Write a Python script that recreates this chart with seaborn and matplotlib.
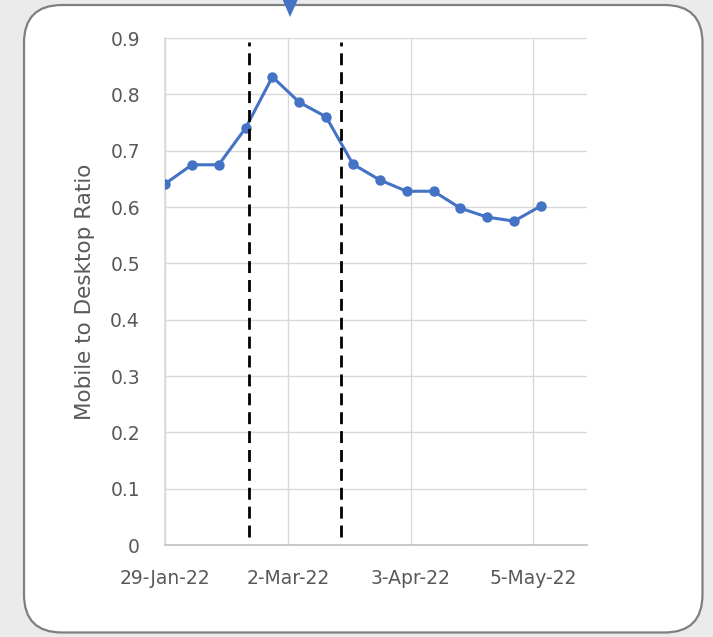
import datetime as dt

import matplotlib.dates as mdates
import matplotlib.pyplot as plt
import numpy as np
import pandas as pd
import seaborn as sns
from matplotlib.patches import FancyBboxPatch, Polygon
from matplotlib.ticker import FuncFormatter

# Weekly mobile-to-desktop ratio
week_start = "2022-01-29"
n_weeks = 15
ratio = [0.641, 0.675, 0.675, 0.740, 0.831, 0.786, 0.760, 0.676,
         0.648, 0.628, 0.628, 0.598, 0.582, 0.575, 0.602]

# Marker dates (dashed lines) and axis ticks
event_dates = ["2022-02-20", "2022-03-16"]
tick_dates = ["2022-01-29", "2022-03-02", "2022-04-03", "2022-05-05"]
x_end = "2022-05-19"

df = pd.DataFrame({
    "week": pd.date_range(week_start, periods=n_weeks, freq="7D"),
    "ratio": ratio,
})

sns.set_theme(style="white")
plt.rcParams["font.family"] = ["DejaVu Sans"]

grey_text = "#595959"
blue = "#4472C4"

fig = plt.figure(figsize=(7.13, 6.37), dpi=100)
fig.patch.set_facecolor("#ebebeb")

# rounded panel behind the chart
panel = FancyBboxPatch((0.24, 0.045), 6.785, 6.275,
                       boxstyle="round,pad=0,rounding_size=0.38",
                       transform=fig.dpi_scale_trans,
                       facecolor="white", edgecolor="#7f7f7f", linewidth=1.6,
                       zorder=-10)
fig.patches.append(panel)

# little blue pointer at the top
tri = Polygon([(2.815, 6.40), (2.99, 6.40), (2.90, 6.20)], closed=True,
              transform=fig.dpi_scale_trans, facecolor=blue, edgecolor="none",
              zorder=10)
fig.patches.append(tri)

ax = fig.add_axes([0.2314, 0.1444, 0.5919, 0.7959])
ax.set_zorder(1)
ax.set_facecolor("none")

sns.lineplot(data=df, x="week", y="ratio", ax=ax, color=blue, linewidth=2.2,
             marker="o", markersize=7.5, markeredgewidth=0, zorder=3)

for d in event_dates:
    ax.axvline(pd.Timestamp(d), ymin=0.016, ymax=0.992, color="black",
               linewidth=2, linestyle=(0, (4.3, 2.5)), zorder=4)

ax.set_xlim(pd.Timestamp(week_start), pd.Timestamp(x_end))
ax.set_ylim(0, 0.9)
ax.set_yticks(np.arange(0, 0.91, 0.1))
ax.yaxis.set_major_formatter(FuncFormatter(lambda v, p: f"{v:g}"))
ax.set_xticks([pd.Timestamp(t) for t in tick_dates])
ax.xaxis.set_major_formatter(FuncFormatter(
    lambda v, p: (lambda d: f"{d.day}-{d:%b-%y}")(mdates.num2date(v))))

ax.grid(True, color="#d9d9d9", linewidth=1)
ax.set_axisbelow(True)
for s in ["top", "right"]:
    ax.spines[s].set_visible(False)
ax.spines["left"].set_color("#d9d9d9")
ax.spines["bottom"].set_color("#bfbfbf")
ax.spines["bottom"].set_linewidth(1.2)

ax.tick_params(axis="both", length=0, labelsize=13.5, colors=grey_text)
ax.tick_params(axis="y", pad=18)
ax.tick_params(axis="x", pad=17)
ax.set_xlabel("")
ax.set_ylabel("Mobile to Desktop Ratio", fontsize=15.5, color=grey_text,
              labelpad=11)

fig.savefig("out.png", dpi=100, facecolor=fig.get_facecolor())
